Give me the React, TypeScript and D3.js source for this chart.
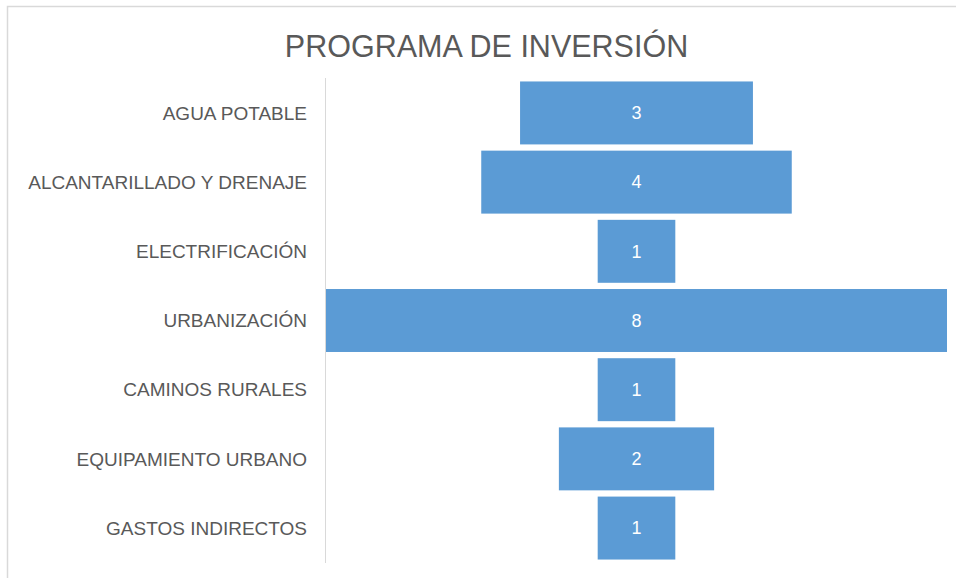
import React from "react";
import * as d3 from "d3";

const categories = [
  "AGUA POTABLE",
  "ALCANTARILLADO Y DRENAJE",
  "ELECTRIFICACIÓN",
  "URBANIZACIÓN",
  "CAMINOS RURALES",
  "EQUIPAMIENTO URBANO",
  "GASTOS INDIRECTOS",
];
const values = [3, 4, 1, 8, 1, 2, 1];
const title = "PROGRAMA DE INVERSIÓN";

const W = 956;
const H = 578;
const FONT = "'Liberation Sans', Arial, sans-serif";

export default function App() {
  const maxV = d3.max(values) as number;
  const x = d3.scaleLinear().domain([-maxV / 2, maxV / 2]).range([326, 947]);
  const y = d3
    .scaleBand<string>()
    .domain(categories)
    .range([78, 563])
    .paddingInner(0.09)
    .paddingOuter(0.05);

  return (
    <svg
      width={W}
      height={H}
      style={{ position: "absolute", left: 0, top: 0, background: "#fff" }}
    >
      <rect x={0} y={0} width={W} height={H} fill="#fff" />
      <rect
        x={7.5}
        y={6.5}
        width={W + 10}
        height={H + 10}
        fill="#fff"
        stroke="#d9d9d9"
        strokeWidth={1.5}
      />
      <text
        x={486.5}
        y={57}
        textAnchor="middle"
        fontFamily={FONT}
        fontSize={30.5}
        fill="#595959"
      >
        {title}
      </text>
      <line
        x1={325.5}
        x2={325.5}
        y1={78}
        y2={563}
        stroke="#d9d9d9"
        strokeWidth={1}
      />
      {categories.map((c, i) => {
        const v = values[i];
        const y0 = y(c) as number;
        const bw = y.bandwidth();
        const x0 = x(-v / 2);
        const x1 = x(v / 2);
        return (
          <g key={c}>
            <rect x={x0} y={y0} width={x1 - x0} height={bw} fill="#5b9bd5" />
            <text
              x={(x0 + x1) / 2}
              y={y0 + bw / 2}
              dy="0.35em"
              textAnchor="middle"
              fontFamily={FONT}
              fontSize={18}
              fill="#ffffff"
            >
              {v}
            </text>
            <text
              x={307}
              y={y0 + bw / 2}
              dy="0.35em"
              textAnchor="end"
              fontFamily={FONT}
              fontSize={19}
              fill="#595959"
            >
              {c}
            </text>
          </g>
        );
      })}
    </svg>
  );
}
